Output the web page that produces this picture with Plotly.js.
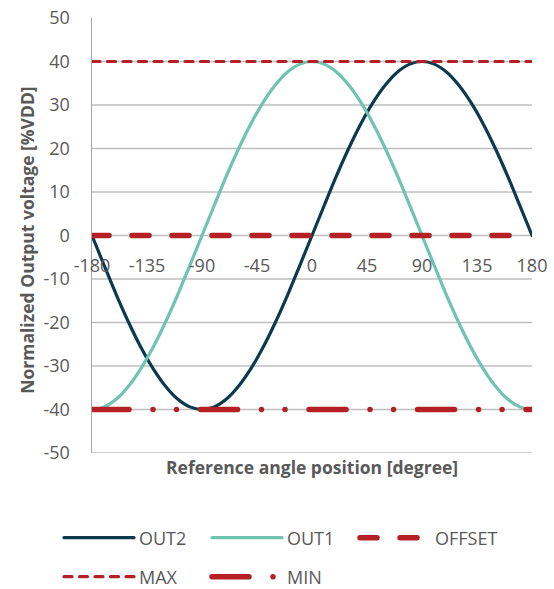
<!DOCTYPE html>
<html>
<head>
<meta charset="utf-8">
<script src="https://cdn.plot.ly/plotly-3.0.1.min.js"></script>
<style>
html,body{margin:0;padding:0;background:#fff;}
#chart{width:554px;height:589px;}
path.js-line{stroke-linecap:round !important;}
</style>
</head>
<body>
<div id="chart"></div>
<script>
// Reference angle position [degree]
const angle = [-180,-170,-160,-150,-140,-130,-120,-110,-100,-90,-80,-70,-60,-50,-40,-30,-20,-10,0,
               10,20,30,40,50,60,70,80,90,100,110,120,130,140,150,160,170,180];
// Normalized output voltage [%VDD]
const out2 = [0,-6.9,-13.7,-20,-25.7,-30.6,-34.6,-37.6,-39.4,-40,-39.4,-37.6,-34.6,-30.6,-25.7,-20,-13.7,-6.9,0,
              6.9,13.7,20,25.7,30.6,34.6,37.6,39.4,40,39.4,37.6,34.6,30.6,25.7,20,13.7,6.9,0];
const out1 = [-40,-39.4,-37.6,-34.6,-30.6,-25.7,-20,-13.7,-6.9,0,6.9,13.7,20,25.7,30.6,34.6,37.6,39.4,40,
              39.4,37.6,34.6,30.6,25.7,20,13.7,6.9,0,-6.9,-13.7,-20,-25.7,-30.6,-34.6,-37.6,-39.4,-40];
const levelX = [-180, 180];
const offsetY = [0, 0];
const maxY = [40, 40];
const minY = [-40, -40];
const xTicks = [-180,-135,-90,-45,0,45,90,135,180];
const yTicks = [-50,-40,-30,-20,-10,0,10,20,30,40,50];
const gridVals = [-50,-40,-30,-20,-10,0,10,20,30,40];

const FONT = '"Open Sans", sans-serif';
const TXT = '#595959';
const RED = '#b52025';

const traces = [
  {x: angle, y: out2, name: 'OUT2', mode: 'lines', line: {color: '#0b3a4f', width: 3.2, shape: 'spline'}, legend: 'legend'},
  {x: angle, y: out1, name: 'OUT1', mode: 'lines', line: {color: '#6fc3b0', width: 3.2, shape: 'spline'}, legend: 'legend'},
  {x: levelX, y: offsetY, name: 'OFFSET', mode: 'lines', line: {color: RED, width: 5.5, dash: '17px,23px'}, legend: 'legend'},
  {x: levelX, y: maxY, name: 'MAX', mode: 'lines', line: {color: RED, width: 3.2, dash: '8px,7.5px'}, legend: 'legend2'},
  {x: levelX, y: minY, name: 'MIN', mode: 'lines', line: {color: RED, width: 5.5, dash: '37px,24px,0.01px,23.5px,0.01px,24px'}, legend: 'legend2'}
];

const shapes = gridVals.map(v => ({
  type: 'line', xref: 'paper', yref: 'y', x0: 0, x1: 1, y0: v, y1: v,
  line: {color: '#bfbfbf', width: 1.3}, layer: 'below'
}));

const legendCommon = {
  orientation: 'h', xref: 'container', yref: 'container', xanchor: 'left', yanchor: 'middle',
  font: {family: FONT, size: 18, color: TXT},
  itemwidth: 70, entrywidth: 63, entrywidthmode: 'pixels',
  bgcolor: 'rgba(0,0,0,0)', traceorder: 'normal', itemclick: false
};

const layout = {
  width: 554, height: 589,
  margin: {l: 92, r: 22, t: 18, b: 136},
  paper_bgcolor: '#fff', plot_bgcolor: '#fff',
  font: {family: FONT, size: 18, color: TXT},
  showlegend: true,
  xaxis: {
    range: [-180, 180], tickvals: xTicks, ticktext: xTicks.map(String),
    anchor: 'free', position: 0.5, showgrid: false, zeroline: false,
    showline: false, ticks: '', ticklabelstandoff: 17,
    tickfont: {family: FONT, size: 18, color: TXT}
  },
  yaxis: {
    range: [-50, 50], tickvals: yTicks, ticktext: yTicks.map(String),
    showgrid: false, zeroline: false, showline: true, linecolor: '#a6a6a6', linewidth: 1.5,
    ticks: '', ticklabelstandoff: 17,
    tickfont: {family: FONT, size: 18, color: TXT}
  },
  shapes: shapes,
  annotations: [
    {text: 'Normalized Output voltage [%VDD]', textangle: -90, xref: 'paper', yref: 'paper',
     x: -0.148, y: 0.49, xanchor: 'center', yanchor: 'middle', showarrow: false,
     font: {family: FONT, size: 17.5, color: TXT, weight: 'bold'}},
    {text: 'Reference angle position [degree]', xref: 'paper', yref: 'paper',
     x: 0.5, y: -0.032, xanchor: 'center', yanchor: 'middle', showarrow: false,
     font: {family: FONT, size: 17.5, color: TXT, weight: 'bold'}}
  ],
  legend: Object.assign({x: 0.1065, y: 0.0866}, legendCommon),
  legend2: Object.assign({x: 0.1065, y: 0.0204}, legendCommon)
};

Plotly.newPlot('chart', traces, layout, {displayModeBar: false, staticPlot: true});
</script>
</body>
</html>
